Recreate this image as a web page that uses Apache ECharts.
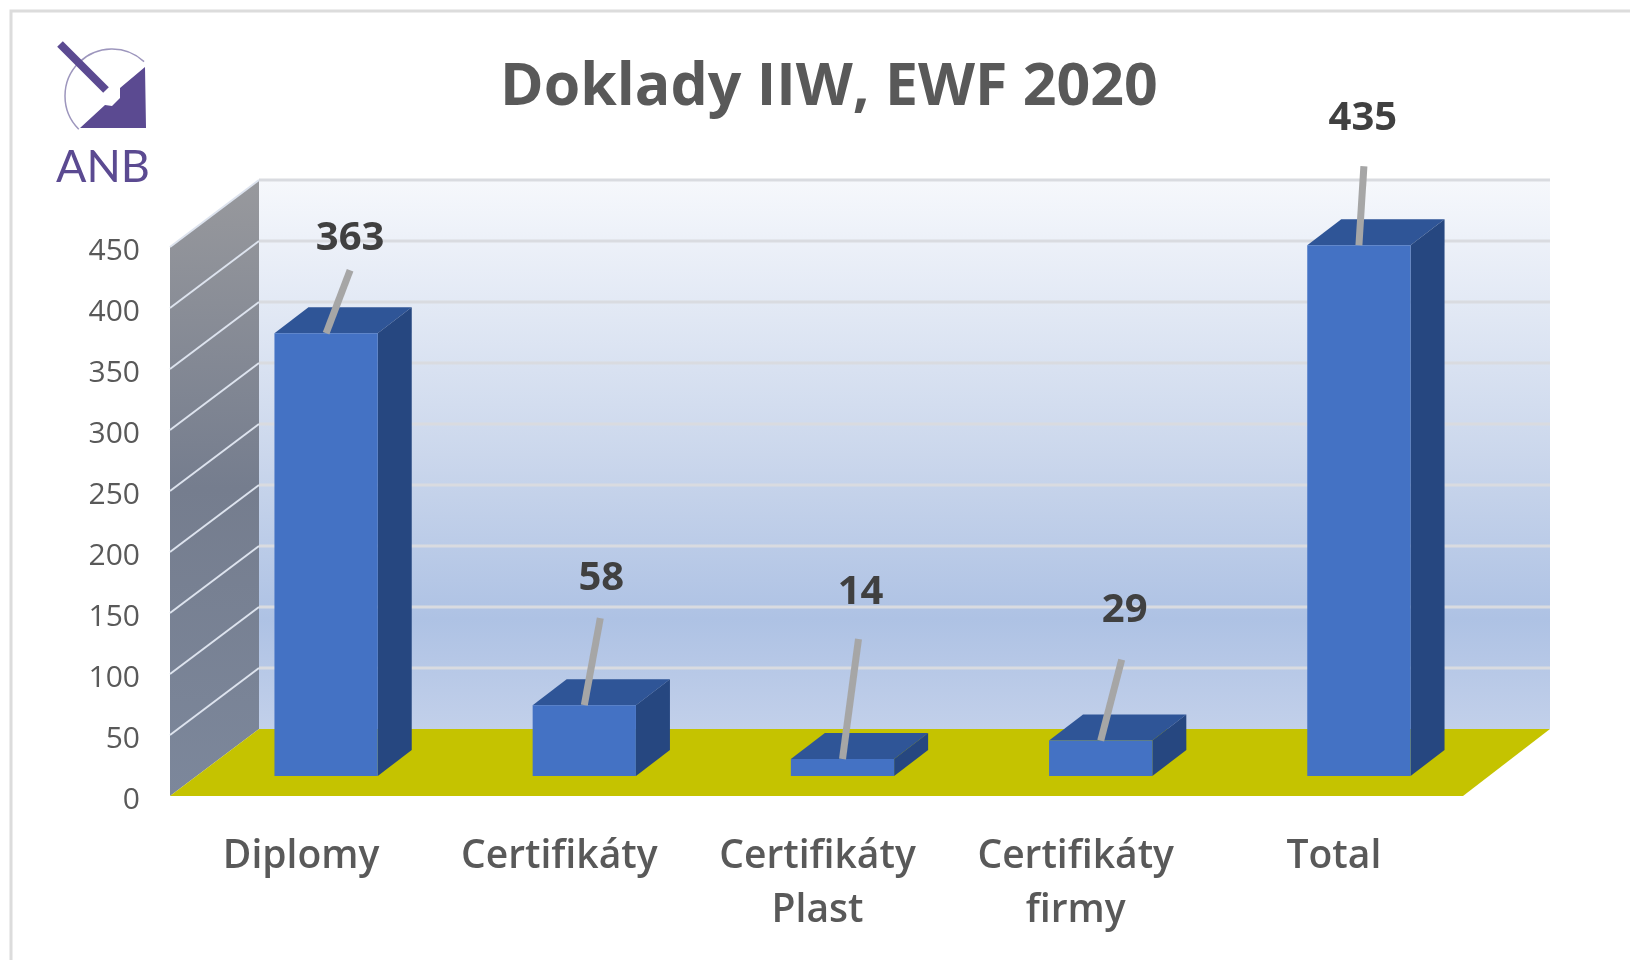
<!DOCTYPE html>
<html>
<head>
<meta charset="utf-8">
<style>html,body{margin:0;padding:0;background:#fff}#c{width:1630px;height:960px}</style>
<script src="https://cdn.jsdelivr.net/npm/echarts@6/dist/echarts.min.js"></script>
</head>
<body>
<div id="c"></div>
<script>
const categories = ['Diplomy', 'Certifikáty', 'Certifikáty\nPlast', 'Certifikáty\nfirmy', 'Total'];
const values = [363, 58, 14, 29, 435];
const yTicks = [0, 50, 100, 150, 200, 250, 300, 350, 400, 450];
const chartTitle = 'Doklady IIW, EWF 2020';

// layout (not data)
const FONT = '"Open Sans", "Noto Sans", sans-serif';
const WALL = { dx: 89, dy: -67, frontExtra: 2 };
const BAR = { dx: 34, dy: -26, inX: 27, inY: -20, widthRatio: 0.4 };
const leader = [
  { tx: 24, ty: -63, lx: 24, ly: -95 },
  { tx: 16, ty: -87, lx: 17, ly: -127 },
  { tx: 16, ty: -120, lx: 18, ly: -166 },
  { tx: 21, ty: -81, lx: 24, ly: -130 },
  { tx: 5, ty: -79, lx: 4, ly: -127 }
];

function wallItem(params, api) {
  const o = api.coord([0, 0]);
  const band = api.size([1, 0])[0];
  const x0 = o[0] - band / 2, x1 = x0 + band * categories.length + WALL.frontExtra;
  const yB = o[1], yT = api.coord([0, 450])[1];
  const d = WALL;
  const bx1 = x1 + d.dx - 2;
  return { type: 'group', children: [
    { type: 'polygon', shape: { points: [[x0 + d.dx, yT + d.dy], [bx1, yT + d.dy], [bx1, yB + d.dy], [x0 + d.dx, yB + d.dy]] },
      style: { fill: new echarts.graphic.LinearGradient(0, 0, 0, 1, [{ offset: 0, color: '#f6f8fc' }, { offset: 0.5, color: '#cbd7ec' }, { offset: 0.8, color: '#aec2e4' }, { offset: 1, color: '#c2d0ea' }]) } },
    { type: 'polygon', shape: { points: [[x0, yT], [x0 + d.dx, yT + d.dy], [x0 + d.dx, yB + d.dy], [x0, yB]] },
      style: { fill: new echarts.graphic.LinearGradient(0, 0, 0, 1, [{ offset: 0, color: '#98999d' }, { offset: 0.5, color: '#757d8e' }, { offset: 1, color: '#7c879b' }]) } },
    { type: 'polygon', shape: { points: [[x0, yB], [x0 + d.dx, yB + d.dy], [bx1, yB + d.dy], [x1, yB]] },
      style: { fill: '#c5c300' } },
    { type: 'line', shape: { x1: x0 + d.dx, y1: yT + d.dy, x2: bx1, y2: yT + d.dy }, style: { stroke: '#d9d9d9', lineWidth: 2 } }
  ] };
}

function gridItem(params, api) {
  const t = api.value(0);
  if (t === 0) return null;
  const o = api.coord([0, t]);
  const band = api.size([1, 0])[0];
  const x0 = o[0] - band / 2, x1 = x0 + band * categories.length + WALL.frontExtra;
  const y = o[1], d = WALL;
  return { type: 'group', children: [
    { type: 'line', shape: { x1: x0, y1: y, x2: x0 + d.dx, y2: y + d.dy }, style: { stroke: '#dde3ee', lineWidth: 2 } },
    { type: 'line', shape: { x1: x0 + d.dx, y1: y + d.dy, x2: x1 + d.dx - 2, y2: y + d.dy }, style: { stroke: '#d9dbe0', lineWidth: 3 } }
  ] };
}

function barItem(params, api) {
  const i = api.value(0), v = api.value(1);
  const band = api.size([1, 0])[0];
  const c = api.coord([i, v]), b = api.coord([i, 0]);
  const w = band * BAR.widthRatio;
  const xl = c[0] + BAR.inX - w / 2, xr = xl + w;
  const yt = c[1] + BAR.inY, yb = b[1] + BAR.inY;
  const dx = BAR.dx, dy = BAR.dy;
  return { type: 'group', children: [
    { type: 'polygon', shape: { points: [[xl, yt], [xl + dx, yt + dy], [xr + dx, yt + dy], [xr, yt]] }, style: { fill: '#2f5597' } },
    { type: 'polygon', shape: { points: [[xr, yt], [xr + dx, yt + dy], [xr + dx, yb + dy], [xr, yb]] }, style: { fill: '#264780' } },
    { type: 'polygon', shape: { points: [[xl, yt], [xr, yt], [xr, yb], [xl, yb]] }, style: { fill: '#4472c4' } }
  ] };
}

function labelItem(params, api) {
  const i = api.value(0), v = api.value(1);
  const c = api.coord([i, v]);
  const x = c[0] + BAR.inX, y = c[1] + BAR.inY;
  const l = leader[i];
  return { type: 'group', children: [
    { type: 'line', shape: { x1: x, y1: y, x2: x + l.tx, y2: y + l.ty }, style: { stroke: '#a6a6a6', lineWidth: 7 } },
    { type: 'text', x: x + l.lx, y: y + l.ly, style: { text: String(v), fill: '#404040', font: '700 40px ' + FONT, textAlign: 'center', textVerticalAlign: 'middle' } }
  ] };
}

const chart = echarts.init(document.getElementById('c'), null, { renderer: 'canvas' });
chart.setOption({
  animation: false,
  backgroundColor: '#ffffff',
  title: { text: chartTitle, left: 495, top: 83, textVerticalAlign: 'middle',
    textStyle: { fontFamily: FONT, fontSize: 59, fontWeight: 700, color: '#595959' } },
  grid: { left: 170, right: 169, top: 247, bottom: 164 },
  xAxis: { type: 'category', data: categories,
    axisLine: { show: false }, axisTick: { show: false }, splitLine: { show: false },
    axisLabel: { margin: 34, fontFamily: FONT, fontSize: 39, fontWeight: 600, color: '#595959', lineHeight: 54, interval: 0, verticalAlign: 'top', padding: [0, 0, 0, 4] } },
  yAxis: { type: 'value', min: 0, max: 450, interval: 50,
    axisLine: { show: false }, axisTick: { show: false }, splitLine: { show: false },
    axisLabel: { margin: 30, fontFamily: FONT, fontSize: 30, color: '#595959', verticalAlign: 'top', lineHeight: 8 } },
  series: [
    { type: 'custom', silent: true, renderItem: wallItem, data: [[0]], encode: { x: 0 }, clip: false },
    { type: 'custom', silent: true, renderItem: gridItem, data: yTicks.map(t => [t]), encode: { y: 0 }, clip: false },
    { type: 'custom', silent: true, renderItem: barItem, data: values.map((v, i) => [i, v]), encode: { x: 0, y: 1 }, clip: false },
    { type: 'custom', silent: true, renderItem: labelItem, data: values.map((v, i) => [i, v]), encode: { x: 0, y: 1 }, clip: false }
  ],
  graphic: { elements: [
    { type: 'rect', shape: { x: 11, y: 11, width: 1700, height: 1100 }, style: { fill: 'none', stroke: '#dcdcdc', lineWidth: 3 }, z: 100 },
    { type: 'arc', shape: { cx: 112, cy: 96, r: 47, startAngle: 135 * Math.PI / 180, endAngle: 313 * Math.PI / 180, clockwise: true }, style: { fill: 'none', stroke: '#9d96bd', lineWidth: 1.5 }, z: 100 },
    { type: 'polygon', shape: { points: [[145, 67], [146, 128], [80, 128], [105, 105], [112, 106], [120, 98], [120, 88]] }, style: { fill: '#5b4a91' }, z: 100 },
    { type: 'line', shape: { x1: 60, y1: 44, x2: 106, y2: 90 }, style: { stroke: '#5b4a91', lineWidth: 8 }, z: 100 },
    { type: 'text', x: 103, y: 167, style: { text: 'ANB', fill: '#5b4a91', font: '400 45px Lato, ' + FONT, textAlign: 'center', textVerticalAlign: 'middle' }, z: 100 }
  ] }
});
</script>
</body>
</html>
